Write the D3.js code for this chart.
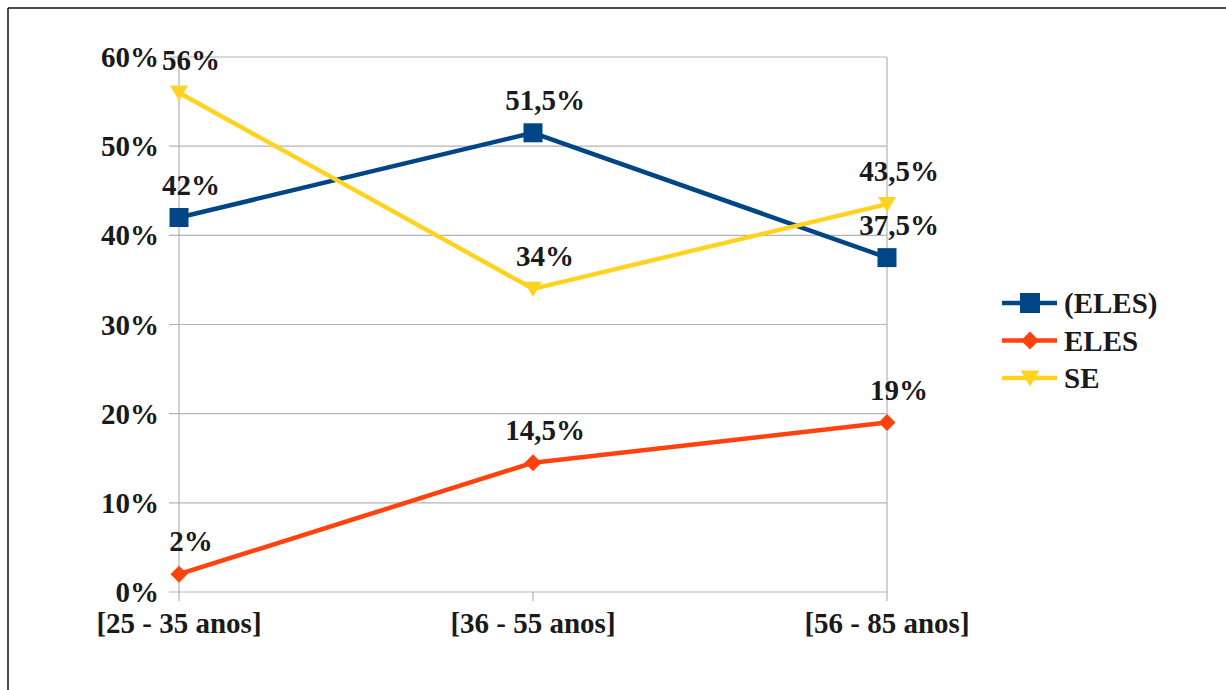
<!DOCTYPE html>
<html>
<head>
<meta charset="utf-8">
<script src="https://cdn.jsdelivr.net/npm/d3@7"></script>
<style>
  html, body { margin: 0; padding: 0; background: #fff; }
  svg { display: block; }
  text { font-family: "Liberation Serif", "Times New Roman", serif; font-weight: bold; fill: #1a1a1a; }
</style>
</head>
<body>
<svg id="chart" width="1226" height="690"></svg>
<script>
// Age groups on the x axis
const categories = ["[25 - 35 anos]", "[36 - 55 anos]", "[56 - 85 anos]"];

// Share of each form per age group (fractions)
const elesParen = [0.42, 0.515, 0.375];
const eles = [0.02, 0.145, 0.19];
const se = [0.56, 0.34, 0.435];

// Data labels as printed next to each point
const elesParenLabels = ["42%", "51,5%", "37,5%"];
const elesLabels = ["2%", "14,5%", "19%"];
const seLabels = ["56%", "34%", "43,5%"];

// Y axis ticks
const yTicks = [0, 0.1, 0.2, 0.3, 0.4, 0.5, 0.6];
const yTickLabels = ["0%", "10%", "20%", "30%", "40%", "50%", "60%"];

const series = [
  { name: "(ELES)", values: elesParen, labels: elesParenLabels, color: "#004586", marker: "square" },
  { name: "ELES", values: eles, labels: elesLabels, color: "#ff420e", marker: "diamond" },
  { name: "SE", values: se, labels: seLabels, color: "#ffd320", marker: "triangle" }
];

const svg = d3.select("#chart");
const fontSize = 29;

// Outer frame (top and left edges)
svg.append("line").attr("x1", 8).attr("y1", 8).attr("x2", 1226).attr("y2", 8)
  .attr("stroke", "#111").attr("stroke-width", 1.5);
svg.append("line").attr("x1", 8).attr("y1", 8).attr("x2", 8).attr("y2", 690)
  .attr("stroke", "#111").attr("stroke-width", 1.5);

const x = d3.scalePoint().domain(categories).range([179, 887]).padding(0);
const y = d3.scaleLinear().domain([0, 0.6]).range([592, 57]);

const grid = "#b3b3b3";

// Horizontal gridlines with short ticks to the left
svg.append("g").selectAll("line").data(yTicks).join("line")
  .attr("x1", x.range()[0] - 10).attr("x2", x.range()[1])
  .attr("y1", d => y(d)).attr("y2", d => y(d))
  .attr("stroke", grid).attr("stroke-width", 1.2);

// Left axis, right border and bottom category ticks
svg.append("line").attr("x1", x(categories[0])).attr("x2", x(categories[0]))
  .attr("y1", y(0.6)).attr("y2", y(0) + 9).attr("stroke", grid).attr("stroke-width", 1.2);
svg.append("line").attr("x1", x(categories[2])).attr("x2", x(categories[2]))
  .attr("y1", y(0.6)).attr("y2", y(0) + 9).attr("stroke", grid).attr("stroke-width", 1.2);
svg.append("line").attr("x1", x(categories[1])).attr("x2", x(categories[1]))
  .attr("y1", y(0)).attr("y2", y(0) + 9).attr("stroke", grid).attr("stroke-width", 1.2);

// Y tick labels
svg.append("g").selectAll("text").data(yTicks).join("text")
  .attr("x", 159).attr("y", d => y(d))
  .attr("dy", "0.35em")
  .attr("text-anchor", "end")
  .style("font-size", fontSize + "px")
  .text((d, i) => yTickLabels[i]);

// Category labels
svg.append("g").selectAll("text").data(categories).join("text")
  .attr("x", d => x(d)).attr("y", 633)
  .attr("text-anchor", "middle")
  .style("font-size", fontSize + "px")
  .text(d => d);

function markerPath(type, size) {
  const h = size / 2;
  if (type === "square") return `M${-h},${-h}H${h}V${h}H${-h}Z`;
  if (type === "diamond") return `M0,${-h}L${h},0L0,${h}L${-h},0Z`;
  return `M${-h},${-h * 0.8}H${h}L0,${h * 0.9}Z`;
}
const markerSize = { square: 19, diamond: 17, triangle: 18 };

const line = d3.line().x((d, i) => x(categories[i])).y(d => y(d));

series.forEach(s => {
  const g = svg.append("g");
  g.append("path").datum(s.values)
    .attr("d", line)
    .attr("fill", "none").attr("stroke", s.color)
    .attr("stroke-width", 4.5).attr("stroke-linejoin", "round");
  g.selectAll("path.m").data(s.values).join("path").attr("class", "m")
    .attr("transform", (d, i) => `translate(${x(categories[i])},${y(d)})`)
    .attr("d", markerPath(s.marker, markerSize[s.marker]))
    .attr("fill", s.color);
  g.selectAll("text").data(s.values).join("text")
    .attr("x", (d, i) => x(categories[i]) + 12)
    .attr("y", d => y(d) - 23)
    .attr("text-anchor", "middle")
    .style("font-size", fontSize + "px")
    .text((d, i) => s.labels[i]);
});

// Legend
const legend = svg.append("g").attr("transform", "translate(1002,303)");
series.forEach((s, i) => {
  const row = legend.append("g").attr("transform", `translate(0,${i * 37.5})`);
  row.append("line").attr("x1", 0).attr("x2", 55).attr("y1", 0).attr("y2", 0)
    .attr("stroke", s.color).attr("stroke-width", 4.5);
  row.append("path").attr("transform", "translate(28,0)")
    .attr("d", markerPath(s.marker, markerSize[s.marker] + 1)).attr("fill", s.color);
  row.append("text").attr("x", 62).attr("y", 0).attr("dy", "0.36em")
    .style("font-size", fontSize + "px")
    .text(s.name);
});
</script>
</body>
</html>
